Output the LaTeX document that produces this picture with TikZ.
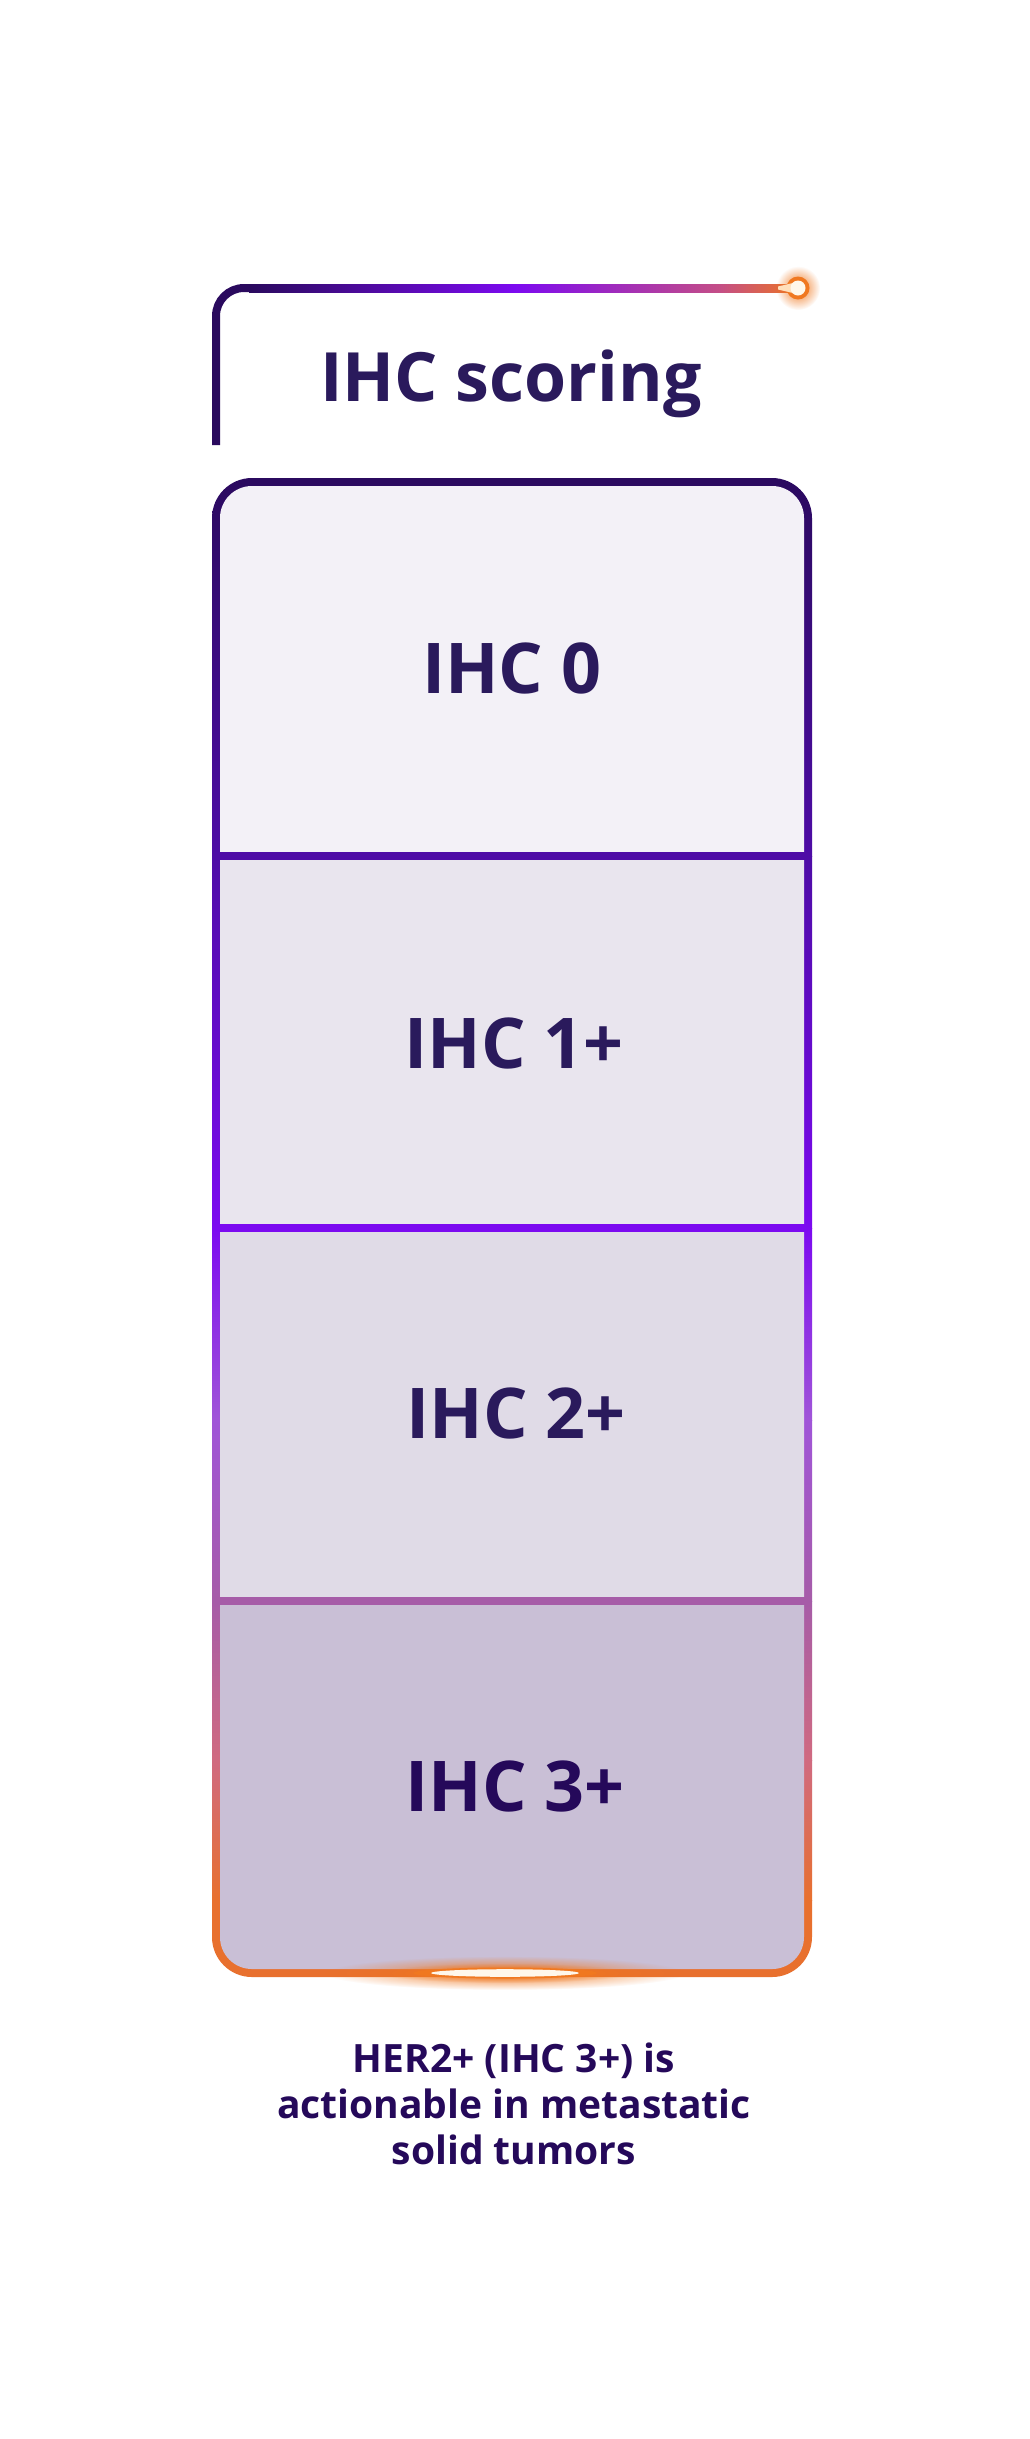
\documentclass[tikz,border=0pt]{standalone}
\usepackage{fontspec}
\setmainfont{Open Sans}
\usetikzlibrary{fadings}
\tikzfading[name=glowfade, inner color=transparent!0, outer color=transparent!100]
\definecolor{ink}{HTML}{2A1A5C}
\definecolor{inkdeep}{HTML}{25095A}
\definecolor{cA}{HTML}{2A0A5E}
\definecolor{cB}{HTML}{4E0CA6}
\definecolor{cC}{HTML}{7C0AF0}
\definecolor{cD}{HTML}{A055D8}
\definecolor{cE}{HTML}{A65CA8}
\definecolor{cF}{HTML}{D06A80}
\definecolor{cG}{HTML}{E8702E}
\definecolor{hP}{HTML}{C44E86}
\definecolor{fill0}{HTML}{F3F1F7}
\definecolor{fill1}{HTML}{E9E5EE}
\definecolor{fill2}{HTML}{E0DBE7}
\definecolor{fill3}{HTML}{C9BFD6}
\definecolor{glow}{HTML}{F07820}
\definecolor{core}{HTML}{FFF7EA}
\tikzset{
  lbl/.style={font=\fontsize{70}{84}\selectfont\bfseries, text=ink, inner sep=0pt},
  ttl/.style={font=\fontsize{68}{82}\selectfont\bfseries, text=ink, inner sep=0pt, anchor=base},
  note/.style={font=\fontsize{39}{46}\selectfont\bfseries, text=inkdeep, inner sep=0pt, anchor=base},
  divider/.style={line width=7.5pt},
}
\begin{document}
\begin{tikzpicture}[x=1pt,y=-1pt]
\useasboundingbox (0,0) rectangle (1029,2439);
\fill[white] (0,0) rectangle (1029,2439);

% ---------- header bracket ----------
\coordinate (bb) at (216,445);
\coordinate (bc) at (216,288);
\coordinate (be) at (250,288);
\coordinate (dot) at (798,288);
\draw[cA, line width=8pt, rounded corners=28pt] (bb) -- (bc) -- (be);
\shade[left color=cA, right color=cC] (249,284) rectangle (515,292);
\shade[left color=cC, right color=hP] (514.5,284) rectangle (720,292);
\shade[left color=hP, right color=cG] (719.5,284) rectangle (790,292);
% glowing dot
\fill[glow, path fading=glowfade] (dot) circle (22);
\fill[glow] (dot) circle (11.5);
\fill[core!80!orange] (778,286.5) -- (795,282.5) -- (795,293.5) -- (778,289.5) -- cycle;
\fill[core] (dot) circle (7.5);

\node[ttl] (title) at (511,401) {IHC scoring};

% ---------- gradient border (outer body) ----------
\coordinate (o1) at (212,478);
\coordinate (o2) at (812,1977);
\begin{scope}
  \clip[rounded corners=40pt] (o1) rectangle (o2);
  \shade[top color=cA, bottom color=cB] (200,470) rectangle (830,856.5);
  \shade[top color=cB, bottom color=cC] (200,856) rectangle (830,1228.5);
  \shade[top color=cC, bottom color=cD] (200,1228) rectangle (830,1420.5);
  \shade[top color=cD, bottom color=cE] (200,1420) rectangle (830,1601.5);
  \shade[top color=cE, bottom color=cF] (200,1601) rectangle (830,1760.5);
  \shade[top color=cF, bottom color=cG] (200,1760) rectangle (830,1900.5);
  \fill[cG] (200,1900) rectangle (830,1990);
\end{scope}

% ---------- panel fills (inner) ----------
\coordinate (p1) at (220,486);
\coordinate (p2) at (804,1969);
\begin{scope}
  \clip[rounded corners=32pt] (p1) rectangle (p2);
  \fill[fill0] (200,470) rectangle (830,856);
  \fill[fill1] (200,856) rectangle (830,1228);
  \fill[fill2] (200,1228) rectangle (830,1601);
  \fill[fill3] (200,1601) rectangle (830,1990);
\end{scope}

% ---------- dividers ----------
\coordinate (d1l) at (216,856);  \coordinate (d1r) at (808,856);
\coordinate (d2l) at (216,1228); \coordinate (d2r) at (808,1228);
\coordinate (d3l) at (216,1601); \coordinate (d3r) at (808,1601);
\draw[divider, cB] (d1l) -- (d1r);
\draw[divider, cC] (d2l) -- (d2r);
\draw[divider, cE] (d3l) -- (d3r);

% ---------- bottom glow ----------
\coordinate (bg) at (505,1973);
\fill[glow, path fading=glowfade] (bg) ellipse (180pt and 17pt);
\fill[glow, path fading=glowfade] (bg) ellipse (125pt and 10pt);
\fill[glow] (bg) ellipse (92pt and 5.5pt);
\fill[core] (bg) ellipse (74pt and 3.8pt);

% ---------- labels ----------
\node[lbl] (ihc0) at (512,668) {IHC 0};
\node[lbl] (ihc1) at (514,1043) {IHC 1+};
\node[lbl] (ihc2) at (516,1413) {IHC 2+};
\node[lbl, text=inkdeep] (ihc3) at (515,1786) {IHC 3+};

% ---------- note ----------
\node[note] (n1) at (514,2072) {HER2+ (IHC 3+) is};
\node[note] (n2) at (514,2118) {actionable in metastatic};
\node[note] (n3) at (514,2164) {solid tumors};
\end{tikzpicture}
\end{document}
